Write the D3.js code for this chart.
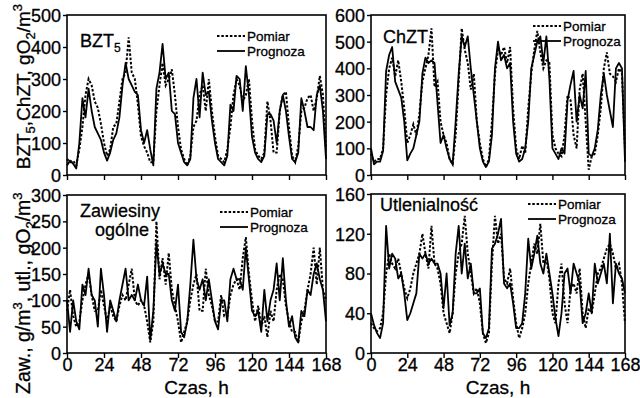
<!DOCTYPE html>
<html>
<head>
<meta charset="utf-8">
<script src="https://cdn.jsdelivr.net/npm/d3@7"></script>
<style>
  body { margin: 0; background: #fff; }
  svg { display: block; font-family: "Liberation Sans", Arial, sans-serif; }
  text { fill: #000; stroke: #000; stroke-width: 0.3; }
</style>
</head>
<body>
<div id="chart"></div>
<script>
// sampling every 2 hours, 0..168 h
const hours = d3.range(0, 169, 2);
const hourTicks = [0, 24, 48, 72, 96, 120, 144, 168];

const bztTicks = [0, 100, 200, 300, 400, 500];
const chztTicks = [0, 100, 200, 300, 400, 500, 600];
const zawTicks = [0, 50, 100, 150, 200, 250, 300];
const utlTicks = [0, 40, 80, 120, 160];

const bztPomiar = [50,40,45,30,80,150,250,300,280,230,
  210,160,100,60,80,150,160,230,300,320,
  430,320,300,220,120,90,70,40,40,200,
  280,350,280,300,330,250,150,80,50,30,
  60,150,170,250,280,200,300,200,120,60,
  50,40,80,150,250,300,280,230,250,300,
  170,80,60,50,70,230,170,70,70,200,
  250,260,150,60,40,90,200,210,240,250,
  200,240,310,250,80];
const bztPrognoza = [30,45,35,20,100,240,180,270,200,150,
  130,110,70,45,70,110,130,180,280,350,
  300,280,260,250,140,100,140,80,30,270,
  320,410,300,320,200,190,100,70,40,30,
  50,240,300,180,320,250,260,170,100,50,
  40,30,60,220,200,310,300,200,340,250,
  120,70,50,40,60,190,190,170,100,200,
  250,200,120,50,40,70,240,200,150,150,
  140,250,280,200,50];

const chztPomiar = [80,50,60,60,100,300,400,440,370,430,
  350,250,120,150,190,150,230,350,400,450,
  550,330,350,200,150,120,60,40,150,350,
  550,470,420,320,380,200,120,60,30,60,
  200,380,470,450,480,420,480,250,100,60,
  110,80,250,380,470,540,460,400,430,420,
  150,100,80,70,150,300,280,150,100,320,
  380,200,20,70,80,150,250,400,460,380,
  370,350,400,380,100];
const chztPrognoza = [100,40,50,50,90,390,450,480,350,320,
  290,200,55,80,100,150,200,380,440,420,
  430,420,270,120,150,100,60,40,200,380,
  520,480,520,400,300,200,100,50,30,50,
  150,400,500,430,450,400,420,200,80,50,
  60,100,200,400,450,500,520,420,520,360,
  100,80,60,100,80,280,340,390,200,300,
  250,390,80,70,100,170,300,380,300,240,
  180,400,420,400,50];

const zawPomiar = [80,120,70,50,60,100,130,150,110,80,
  80,120,90,60,90,70,60,90,110,100,
  130,160,100,90,100,90,60,20,60,250,
  140,180,130,190,120,90,60,20,40,60,
  100,130,150,80,80,160,110,90,60,60,
  110,70,70,110,130,140,120,180,220,150,
  100,60,90,50,70,30,80,60,120,150,
  140,90,60,40,40,20,60,80,120,150,
  200,130,200,120,100];
const zawPrognoza = [100,40,100,60,45,130,110,160,110,100,
  50,160,110,40,100,80,60,100,130,160,
  100,110,100,130,100,90,145,25,80,210,
  150,170,150,150,100,80,130,40,30,60,
  130,215,140,120,140,100,140,100,60,45,
  100,100,60,140,160,140,140,120,200,140,
  80,70,80,40,120,60,100,120,170,100,
  180,100,50,70,30,20,80,70,120,110,
  150,170,140,120,60];

const utlPomiar = [30,25,22,25,40,80,100,90,85,95,
  80,65,55,65,80,90,100,120,100,85,
  128,90,85,70,40,30,20,40,80,100,
  110,138,100,80,60,65,50,20,10,20,
  90,138,110,120,75,70,85,55,30,15,
  25,40,70,90,110,100,130,90,95,75,
  40,30,70,90,50,30,65,70,60,85,
  40,25,45,40,60,80,85,95,105,110,
  100,85,90,70,30];
const utlPrognoza = [40,28,20,15,30,128,85,100,95,75,
  80,60,33,40,50,60,100,95,100,90,
  95,90,90,80,45,80,28,40,100,128,
  80,110,75,90,60,60,65,20,15,25,
  105,110,120,135,70,65,70,50,25,25,
  30,60,115,85,100,118,90,80,100,80,
  60,35,17,40,80,85,60,90,80,70,
  30,40,60,40,90,70,80,90,70,120,
  50,90,80,75,60];

const W = 640, H = 398;

const panels = [
  { title: ["BZT", "5"], tx: 80, ty: 47, x0: 67, x1: 326, y0: 15, y1: 175,
    ticks: bztTicks, meas: bztPomiar, pred: bztPrognoza, xLabels: false, legX: 217, legY: 36 },
  { title: ["ChZT"], tx: 383, ty: 43, x0: 371, x1: 625, y0: 15, y1: 175,
    ticks: chztTicks, meas: chztPomiar, pred: chztPrognoza, xLabels: false, legX: 533, legY: 26 },
  { title: ["Zawiesiny", "ogólne"], tx: 80, ty: 217, x0: 67, x1: 326, y0: 195, y1: 353,
    ticks: zawTicks, meas: zawPomiar, pred: zawPrognoza, xLabels: true, legX: 220, legY: 212 },
  { title: ["Utlenialność"], tx: 380, ty: 211, x0: 371, x1: 625, y0: 194, y1: 353,
    ticks: utlTicks, meas: utlPomiar, pred: utlPrognoza, xLabels: true, legX: 528, legY: 204 },
];

const svg = d3.select("#chart").append("svg")
  .attr("width", W).attr("height", H)
  .attr("viewBox", `0 0 ${W} ${H}`);

panels.forEach((p, i) => {
  const x = d3.scaleLinear().domain([0, 168]).range([p.x0, p.x1]);
  const y = d3.scaleLinear().domain([0, d3.max(p.ticks)]).range([p.y1, p.y0]);
  const g = svg.append("g");

  const line = d3.line().x((d, k) => x(hours[k])).y(d => y(d));

  g.append("path").datum(p.meas)
    .attr("d", line).attr("fill", "none").attr("stroke", "#000")
    .attr("stroke-width", 2).attr("stroke-dasharray", "2.5,1.8");
  g.append("path").datum(p.pred)
    .attr("d", line).attr("fill", "none").attr("stroke", "#000")
    .attr("stroke-width", 1.8).attr("stroke-linejoin", "round");

  // frame
  g.append("rect")
    .attr("x", p.x0).attr("y", p.y0)
    .attr("width", p.x1 - p.x0).attr("height", p.y1 - p.y0)
    .attr("fill", "none").attr("stroke", "#000").attr("stroke-width", 1.6);

  const ya = g.append("g").attr("transform", `translate(${p.x0},0)`)
    .call(d3.axisLeft(y).tickValues(p.ticks).tickSize(4).tickPadding(2));
  ya.select(".domain").remove();
  ya.selectAll(".tick line").attr("stroke", "#000").attr("stroke-width", 1.4);
  ya.selectAll(".tick text").attr("font-size", 18).attr("dy", "0.36em");

  const xa = g.append("g").attr("transform", `translate(0,${p.y1})`)
    .call(d3.axisBottom(x).tickValues(hourTicks).tickSize(5).tickPadding(0)
      .tickFormat(p.xLabels ? d3.format("d") : () => ""));
  xa.select(".domain").remove();
  xa.selectAll(".tick line").attr("stroke", "#000").attr("stroke-width", 1.4);
  xa.selectAll(".tick text").attr("font-size", 18);

  // panel title
  if (p.title.length === 2 && i === 0) {
    const t = g.append("text").attr("x", p.tx).attr("y", p.ty).attr("font-size", 18);
    t.append("tspan").text(p.title[0]);
    t.append("tspan").attr("font-size", 12).attr("dy", 5).text(p.title[1]);
  } else if (p.title.length === 2) {
    g.append("text").attr("x", p.tx).attr("y", p.ty).attr("font-size", 18).text(p.title[0]);
    g.append("text").attr("x", p.tx + 15).attr("y", p.ty + 19).attr("font-size", 18).text(p.title[1]);
  } else {
    g.append("text").attr("x", p.tx).attr("y", p.ty).attr("font-size", 18).text(p.title[0]);
  }

  // legend
  const leg = g.append("g").attr("transform", `translate(${p.legX},${p.legY})`);
  leg.append("line").attr("x1", 0).attr("x2", 28).attr("y1", 0).attr("y2", 0)
    .attr("stroke", "#000").attr("stroke-width", 2).attr("stroke-dasharray", "2.5,1.8");
  leg.append("line").attr("x1", 0).attr("x2", 28).attr("y1", 15).attr("y2", 15)
    .attr("stroke", "#000").attr("stroke-width", 1.8);
  leg.append("text").attr("x", 30).attr("y", 5).attr("font-size", 13.5).text("Pomiar");
  leg.append("text").attr("x", 30).attr("y", 20).attr("font-size", 13.5).text("Prognoza");

  if (p.xLabels) {
    g.append("text").attr("x", (p.x0 + p.x1) / 2).attr("y", 394)
      .attr("text-anchor", "middle").attr("font-size", 19).text("Czas, h");
  }
});

// rotated y-axis titles
const yt1 = svg.append("text")
  .attr("transform", "translate(30,394) rotate(-90)")
  .attr("font-size", 19.5);
yt1.append("tspan").text("Zaw., g/m");
yt1.append("tspan").attr("font-size", 13).attr("dy", -8).text("3");
yt1.append("tspan").attr("dy", 8).text(", utl., gO");
yt1.append("tspan").attr("font-size", 13).attr("dy", 5).text("2");
yt1.append("tspan").attr("dy", -5).text("/m");
yt1.append("tspan").attr("font-size", 13).attr("dy", -8).text("3");

const yt2 = svg.append("text")
  .attr("transform", "translate(30,4) rotate(-90)")
  .attr("text-anchor", "end")
  .attr("font-size", 19);
yt2.append("tspan").text("BZT");
yt2.append("tspan").attr("font-size", 13).attr("dy", 5).text("5");
yt2.append("tspan").attr("dy", -5).text(",ChZT, gO");
yt2.append("tspan").attr("font-size", 13).attr("dy", 5).text("2");
yt2.append("tspan").attr("dy", -5).text("/m");
yt2.append("tspan").attr("font-size", 13).attr("dy", -8).text("3");
</script>
</body>
</html>
